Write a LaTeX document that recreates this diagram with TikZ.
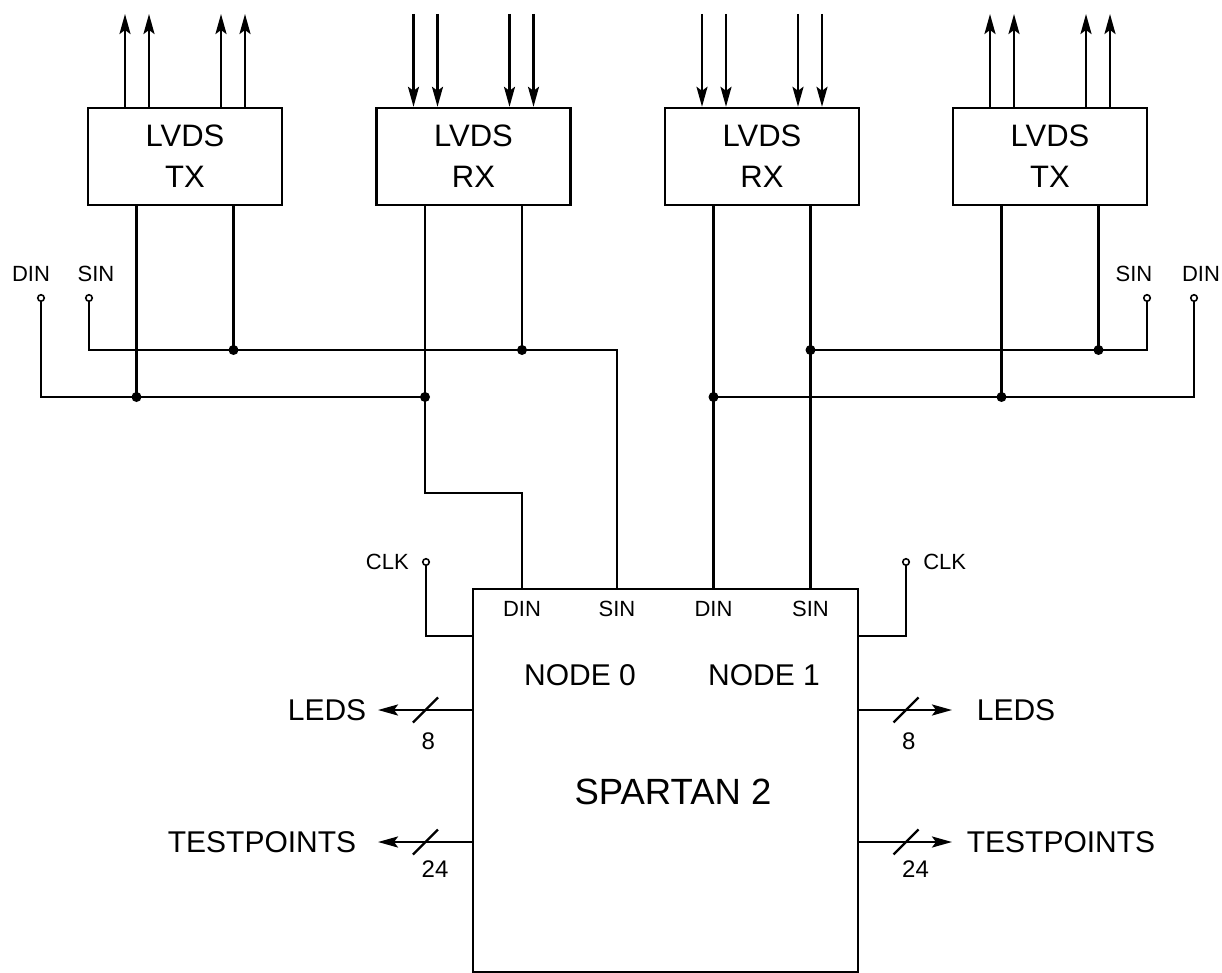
\documentclass[tikz,border=0pt]{standalone}
\usepackage{fontspec}
\setmainfont{Liberation Sans}
\usetikzlibrary{arrows.meta,positioning}
\begin{document}
\begin{tikzpicture}[x=1pt,y=-1pt]
\def\ysin{350}
\def\ydin{397}
\tikzset{
base/.style={draw,line width=2.4pt},
lvds/.style={base,minimum width=194pt,minimum height=97pt,align=center,font=\fontsize{31}{41}\selectfont},
big/.style={font=\fontsize{30}{36}\selectfont,inner sep=0pt},
pin/.style={font=\fontsize{22}{26}\selectfont,inner sep=0pt},
cnt/.style={font=\fontsize{24}{26}\selectfont,inner sep=0pt},
term/.style={circle,draw,line width=1.6pt,fill=white,inner sep=0pt,minimum size=6.5pt},
dot/.style={circle,fill,inner sep=0pt,minimum size=10pt},
every path/.style={line width=2.4pt},
sig/.style={-{Stealth[length=20pt,width=11pt,inset=4pt]}}}
\useasboundingbox (0,0) rectangle (1222,973);
% LVDS boxes
\node[lvds] (TX0) at (185,156.5) {LVDS\\TX};
\node[lvds] (RX0) at (473.5,156.5) {LVDS\\RX};
\node[lvds] (RX1) at (762,156.5) {LVDS\\RX};
\node[lvds] (TX1) at (1050,156.5) {LVDS\\TX};
\coordinate (ext) at (0,14);
\foreach \dx in {-60,-36,36,60} {
 \draw[sig] ([xshift=\dx pt]TX0.north) -- ([xshift=\dx pt]TX0.north |- ext);
 \draw[sig] ([xshift=\dx pt]TX1.north) -- ([xshift=\dx pt]TX1.north |- ext);
 \draw[sig] ([xshift=\dx pt]RX0.north |- ext) -- ([xshift=\dx pt]RX0.north);
 \draw[sig] ([xshift=\dx pt]RX1.north |- ext) -- ([xshift=\dx pt]RX1.north);
}
\foreach \b in {TX0,RX0,RX1,TX1} {
 \coordinate (\b-d) at ([xshift=-48.5pt]\b.south);
 \coordinate (\b-s) at ([xshift=48.5pt]\b.south);
}
% spartan
\node[base,minimum width=385pt,minimum height=383pt] (FPGA) at (665.5,780.5) {};
\coordinate (d0) at (FPGA.north -| RX0-s);
\coordinate (s0) at (FPGA.north -| 617,0);
\coordinate (d1) at (FPGA.north -| RX1-d);
\coordinate (s1) at (FPGA.north -| RX1-s);
\foreach \p/\t in {d0/DIN,s0/SIN,d1/DIN,s1/SIN} \node[pin,below=12pt of \p] (\p-lbl) {\t};
\node[big] (n0) at (580,675) {NODE 0};
\node[big] (n1) at (764,675) {NODE 1};
\node[font=\fontsize{36.5}{40}\selectfont] (chip) at (673,792) {SPARTAN 2};
% terminals
\node[term] (dinL) at (41,298) {};
\node[term] (sinL) at (89,298) {};
\node[term] (sinR) at (1147,298) {};
\node[term] (dinR) at (1194,298) {};
\node[pin] (dinL-lbl) at (31,274) {DIN};
\node[pin] (sinL-lbl) at (96,274) {SIN};
\node[pin] (sinR-lbl) at (1134,274) {SIN};
\node[pin] (dinR-lbl) at (1201,274) {DIN};
% buses
\coordinate (sbus) at (0,\ysin);
\coordinate (dbus) at (0,\ydin);
\draw (sinL) |- (s0 |- sbus) -- (s0);
\draw (dinL) |- (RX0-d |- dbus);
\draw (TX0-s) -- (TX0-s |- sbus) node[dot]{};
\draw (RX0-s) -- (RX0-s |- sbus) node[dot]{};
\draw (TX0-d) -- (TX0-d |- dbus) node[dot]{};
\draw (RX0-d) -- (RX0-d |- dbus) node[dot]{} -- ++(0,96) -| (d0);
\draw (RX1-d) -- (RX1-d |- dbus) node[dot]{} -- (d1);
\draw (RX1-s) -- (RX1-s |- sbus) node[dot]{} -- (s1);
\draw (RX1-s |- sbus) -| (sinR);
\draw (RX1-d |- dbus) -| (dinR);
\draw (TX1-s) -- (TX1-s |- sbus) node[dot]{};
\draw (TX1-d) -- (TX1-d |- dbus) node[dot]{};
% clocks
\node[term] (clkL) at (426,562) {};
\node[pin,left=12pt of clkL] (clkL-lbl) {CLK};
\draw (clkL) |- ([yshift=-48pt]FPGA.north west);
\node[term] (clkR) at (906,562) {};
\node[pin,right=12pt of clkR] (clkR-lbl) {CLK};
\draw (clkR) |- ([yshift=-48pt]FPGA.north east);
% outputs
\foreach \y/\w/\lbl/\xl/\xr/\k/\dy in {710/8/LEDS/327/1016/led/22,842/24/TESTPOINTS/262/1061/tp/18} {
 \coordinate (\k-l) at (378,\y);
 \coordinate (\k-r) at (952,\y);
 \draw[sig] (FPGA.west |- \k-l) -- (\k-l);
 \draw[sig] (FPGA.east |- \k-r) -- (\k-r);
 \node[big] (\k-L) at (\xl,\y) {\lbl};
 \node[big] (\k-R) at (\xr,\y) {\lbl};
 \foreach \x in {425.5,906} {
  \draw (\x-12.5,\y+12.5) -- (\x+12.5,\y-12.5);
  \node[cnt,anchor=north west] at (\x-5,\y+\dy) {\w};
 }
}
\end{tikzpicture}
\end{document}
